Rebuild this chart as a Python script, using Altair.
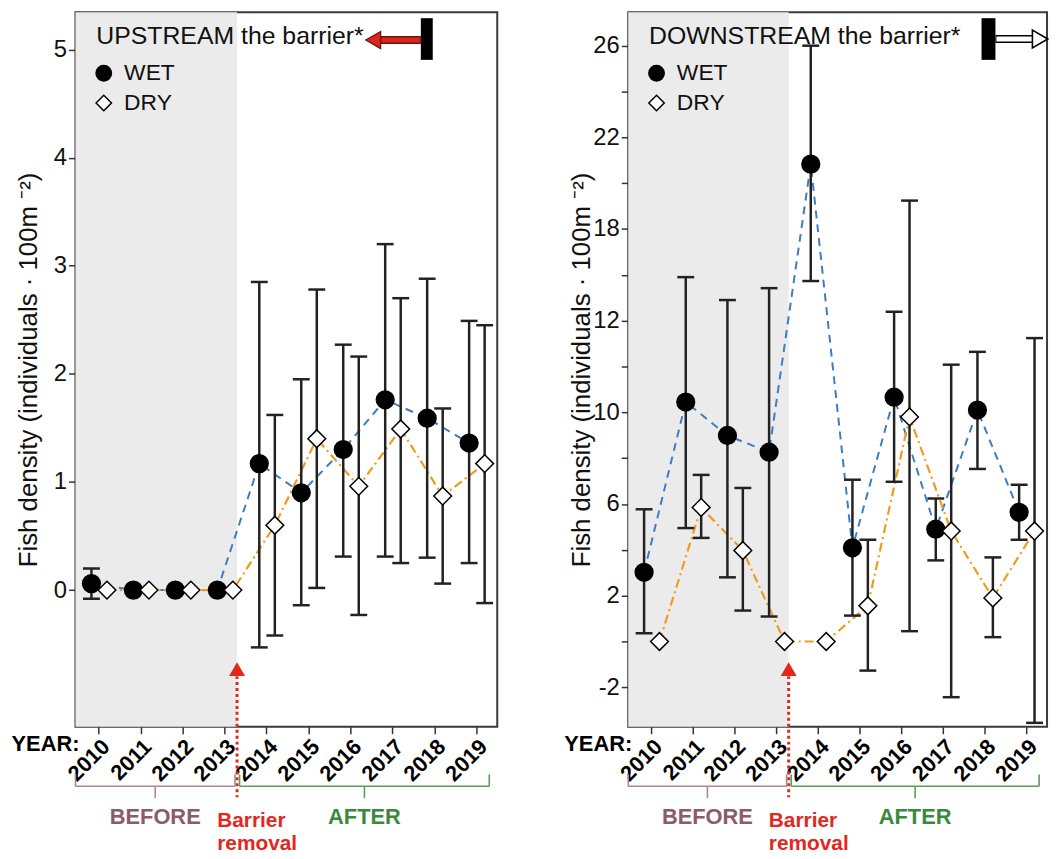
import altair as alt
import pandas as pd

# ---------------- data ----------------
years = [2010, 2011, 2012, 2013, 2014, 2015, 2016, 2017, 2018, 2019]

# UPSTREAM the barrier
up_wet = [0.06, 0.0, 0.0, 0.0, 1.17, 0.90, 1.30, 1.76, 1.59, 1.36]
up_wet_hi = [0.20, None, None, None, 2.85, 1.95, 2.27, 3.20, 2.88, 2.49]
up_wet_lo = [-0.08, None, None, None, -0.53, -0.14, 0.31, 0.31, 0.30, 0.25]
up_dry = [0.0, 0.0, 0.0, 0.0, 0.60, 1.40, 0.96, 1.49, 0.87, 1.17]
up_dry_hi = [None, None, None, None, 1.62, 2.78, 2.16, 2.70, 1.68, 2.45]
up_dry_lo = [None, None, None, None, -0.42, 0.02, -0.23, 0.25, 0.06, -0.12]

# DOWNSTREAM the barrier
dn_wet = [3.02, 10.45, 8.99, 8.26, 20.83, 4.09, 10.66, 4.90, 10.10, 5.64]
dn_wet_hi = [5.77, 15.9, 14.9, 15.42, 26.0, 7.06, 14.39, 6.24, 12.64, 6.84]
dn_wet_lo = [0.36, 4.95, 2.80, 1.09, 15.73, 1.13, 6.97, 3.54, 7.53, 4.44]
dn_dry = [0.0, 5.85, 3.97, 0.0, 0.0, 1.56, 9.80, 4.82, 1.90, 4.82]
dn_dry_hi = [None, 7.27, 6.70, None, None, 4.44, 19.24, 12.08, 3.67, 13.24]
dn_dry_lo = [None, 4.52, 1.35, None, None, -1.27, 0.45, -2.43, 0.19, -3.55]

series_names = ["WET", "DRY"]
up_ticks = [0, 1, 2, 3, 4, 5]
dn_ticks = [-2, 0, 2, 4, 6, 8, 10, 12, 14, 16, 18, 20, 22, 24, 26]
dn_label_expr = "((datum.value + 2) % 4 == 0) ? (datum.value == 14 ? '12' : '' + datum.value) : ''"

periods = ["BEFORE", "AFTER"]
period_start = [2009.45, 2013.36]
period_end = [2013.25, 2019.31]
removal_year = 2013.3

# ---------------- style ----------------
FONT = "Liberation Sans"
H = 720
X_DOMAIN = [2009.45, 2019.5]
WET_BLUE = "#3b7dc4"
DRY_ORANGE = "#f29a1c"
RED = "#e2281c"
PERIOD_TEXT = {"BEFORE": "#8c5a6c", "AFTER": "#3b8a3b"}
PERIOD_LINE = {"BEFORE": "#ad8797", "AFTER": "#5c9c5c"}


def make_df(wet, wet_lo, wet_hi, dry, dry_lo, dry_hi):
    rows = []
    for i, yr in enumerate(years):
        rows.append(dict(year=yr, series="WET", value=wet[i], lo=wet_lo[i], hi=wet_hi[i]))
        rows.append(dict(year=yr, series="DRY", value=dry[i], lo=dry_lo[i], hi=dry_hi[i]))
    return pd.DataFrame(rows)


def panel(df, y_domain, y_values, label_expr, title_text, width, downstream):
    xs = alt.Scale(domain=X_DOMAIN, nice=False, zero=False)
    ys = alt.Scale(domain=y_domain, nice=False, zero=False)
    x_axis = alt.Axis(values=years, format="d", labelAngle=-45, labelFontWeight="bold",
                      labelFontSize=22, labelFont=FONT, labelAlign="right", labelBaseline="top",
                      labelPadding=2, tickSize=7, tickWidth=1.5, tickColor="#333",
                      domain=False, grid=False, title=None, labelColor="black",
                      labelFlush=False, labelOverlap=False)
    y_kw = dict(values=y_values, labelFontSize=24, labelFont=FONT, labelColor="#111",
                tickSize=7, tickWidth=1.5, tickColor="#333", labelPadding=2,
                domain=False, grid=False,
                title="Fish density (individuals · 100m ⁻²)", titleFont=FONT,
                titleFontSize=26, titleFontWeight="normal", titleColor="#111",
                titleX=-47, titleY=H / 2, titleBaseline="middle", titleAlign="center")
    if label_expr:
        y_kw["labelExpr"] = label_expr
    y_axis = alt.Axis(**y_kw)

    base = alt.Chart(df).transform_calculate(
        xpos="datum.year + (datum.series == 'WET' ? -0.17 : 0.2)")
    X = alt.X("xpos:Q", scale=xs, axis=x_axis)

    shade = alt.Chart(pd.DataFrame({"start": [X_DOMAIN[0]], "end": [removal_year]})).mark_rect(
        color="#ebebeb").encode(
        x=alt.X("start:Q", scale=xs, axis=x_axis), x2="end:Q",
        y=alt.value(0), y2=alt.value(H))

    wet_line = base.transform_filter("datum.series == 'WET'").mark_line(
        color=WET_BLUE, strokeWidth=2, strokeDash=[8, 6]).encode(
        x=X, y=alt.Y("value:Q", scale=ys, axis=y_axis))
    dry_line = base.transform_filter("datum.series == 'DRY'").mark_line(
        color=DRY_ORANGE, strokeWidth=2.2, strokeDash=[9, 4, 2, 4]).encode(
        x=X, y=alt.Y("value:Q", scale=ys, axis=y_axis))

    eb = base.transform_filter("isValid(datum.hi)")
    rules = eb.mark_rule(color="#222", strokeWidth=2.5).encode(
        x=X, y=alt.Y("lo:Q", scale=ys, axis=y_axis), y2="hi:Q")
    cap_hi = eb.mark_tick(orient="horizontal", size=17, thickness=2.5, color="#222", opacity=1).encode(
        x=X, y=alt.Y("hi:Q", scale=ys, axis=y_axis))
    cap_lo = eb.mark_tick(orient="horizontal", size=17, thickness=2.5, color="#222", opacity=1).encode(
        x=X, y=alt.Y("lo:Q", scale=ys, axis=y_axis))

    legend = alt.Legend(title=None, orient="none", legendX=17, legendY=50, direction="vertical",
                        labelFontSize=23, labelFont=FONT, labelColor="#111", symbolSize=240,
                        symbolStrokeWidth=1.5, rowPadding=6, labelOffset=9, padding=0)
    points = base.mark_point(filled=True, size=320, stroke="black", strokeWidth=1.5, opacity=1).encode(
        x=X, y=alt.Y("value:Q", scale=ys, axis=y_axis),
        shape=alt.Shape("series:N", scale=alt.Scale(domain=series_names, range=["circle", "diamond"]),
                        legend=legend),
        fill=alt.Fill("series:N", scale=alt.Scale(domain=series_names, range=["black", "white"]),
                      legend=legend),
        stroke=alt.Stroke("series:N", scale=alt.Scale(domain=series_names, range=["black", "black"]),
                          legend=legend))

    # title text and barrier pictogram
    one = pd.DataFrame({"t": [title_text]})
    title = alt.Chart(one).mark_text(align="left", baseline="middle", fontSize=25, font=FONT,
                                     color="#111").encode(
        text="t:N", x=alt.value(21), y=alt.value(24))
    deco = []
    if not downstream:
        deco.append(alt.Chart(one).mark_rect(color="black").encode(
            x=alt.value(348), x2=alt.value(360), y=alt.value(6), y2=alt.value(48)))
        deco.append(alt.Chart(one).mark_rule(color="#6a1010", strokeWidth=8).encode(
            x=alt.value(305), x2=alt.value(348), y=alt.value(28)))
        deco.append(alt.Chart(one).mark_rule(color="#d8281c", strokeWidth=5).encode(
            x=alt.value(305), x2=alt.value(347), y=alt.value(28)))
        deco.append(alt.Chart(one).mark_point(shape="triangle-left", filled=True, size=300,
                                              color="#d8281c", stroke="#6a1010", strokeWidth=1.2,
                                              opacity=1).encode(
            x=alt.value(300), y=alt.value(28)))
    else:
        deco.append(alt.Chart(one).mark_rect(color="black").encode(
            x=alt.value(356), x2=alt.value(370), y=alt.value(6), y2=alt.value(48)))
        deco.append(alt.Chart(one).mark_rule(color="black", strokeWidth=8).encode(
            x=alt.value(370), x2=alt.value(410), y=alt.value(27)))
        deco.append(alt.Chart(one).mark_rule(color="white", strokeWidth=5).encode(
            x=alt.value(371), x2=alt.value(411), y=alt.value(27)))
        deco.append(alt.Chart(one).mark_point(shape="triangle-right", filled=True, size=320,
                                              color="white", stroke="black", strokeWidth=1.6,
                                              opacity=1).encode(
            x=alt.value(415), y=alt.value(27)))

    # barrier removal arrow
    rem = pd.DataFrame({"x": [removal_year]})
    rem_x = alt.X("x:Q", scale=xs, axis=x_axis)
    rem_line = alt.Chart(rem).mark_rule(color=RED, strokeWidth=3, strokeDash=[3, 3]).encode(
        x=rem_x, y=alt.value(H - 51), y2=alt.value(H + 71))
    rem_head = alt.Chart(rem).mark_point(shape="triangle-up", filled=True, size=260, color=RED,
                                         opacity=1).encode(x=rem_x, y=alt.value(H - 58))
    rem_txt = alt.Chart(rem).mark_text(text=["Barrier", "removal"], align="left", baseline="middle",
                                       lineHeight=23, dx=-20, fontSize=21, fontWeight="bold",
                                       font=FONT, color=RED).encode(
        x=rem_x, y=alt.value(H + 95))

    year_lbl = alt.Chart(one).mark_text(text="YEAR:", align="right", baseline="middle",
                                        fontSize=22, fontWeight="bold", font=FONT,
                                        color="black").encode(
        x=alt.value(4), y=alt.value(H + 17))

    # BEFORE / AFTER brackets
    brackets = []
    for i, p in enumerate(periods):
        pdf = pd.DataFrame({"period": [p], "start": [period_start[i]], "end": [period_end[i]]})
        bc = alt.Chart(pdf).transform_calculate(mid="(datum.start + datum.end) / 2")
        lc = PERIOD_LINE[p]
        brackets.append(bc.mark_rule(color=lc, strokeWidth=1.6).encode(
            x=alt.X("start:Q", scale=xs, axis=x_axis), x2="end:Q", y=alt.value(H + 60)))
        brackets.append(bc.mark_rule(color=lc, strokeWidth=1.6).encode(
            x=alt.X("start:Q", scale=xs, axis=x_axis), y=alt.value(H + 48), y2=alt.value(H + 60)))
        brackets.append(bc.mark_rule(color=lc, strokeWidth=1.6).encode(
            x=alt.X("end:Q", scale=xs, axis=x_axis), y=alt.value(H + 48), y2=alt.value(H + 60)))
        brackets.append(bc.mark_rule(color=lc, strokeWidth=1.6).encode(
            x=alt.X("mid:Q", scale=xs, axis=x_axis), y=alt.value(H + 60), y2=alt.value(H + 72)))
        brackets.append(bc.mark_text(align="center", baseline="middle", fontSize=22,
                                     fontWeight="bold", font=FONT, color=PERIOD_TEXT[p]).encode(
            x=alt.X("mid:Q", scale=xs, axis=x_axis), y=alt.value(H + 91), text="period:N"))

    layers = [shade, wet_line, dry_line, rules, cap_hi, cap_lo, points, title] + deco + \
             [rem_line, rem_head, rem_txt, year_lbl] + brackets
    return alt.layer(*layers).properties(width=width, height=H)


left = panel(make_df(up_wet, up_wet_lo, up_wet_hi, up_dry, up_dry_lo, up_dry_hi),
             [-1.264, 5.345], up_ticks, None, "UPSTREAM the barrier*", 425, False)
right = panel(make_df(dn_wet, dn_wet_lo, dn_wet_hi, dn_dry, dn_dry_lo, dn_dry_hi),
              [-3.72, 27.46], dn_ticks, dn_label_expr, "DOWNSTREAM the barrier*", 422, True)

chart = alt.hconcat(left, right, spacing=65).resolve_scale(
    x="independent", y="independent", shape="independent", fill="independent",
    stroke="independent"
).resolve_legend(shape="independent", fill="independent", stroke="independent").properties(
    padding={"left": 2, "top": 0, "right": 0, "bottom": 0}, background="white"
).configure_view(stroke="#3a3a3a", strokeWidth=2)

chart.save("out.html", embed_options={"renderer": "svg", "actions": False})
